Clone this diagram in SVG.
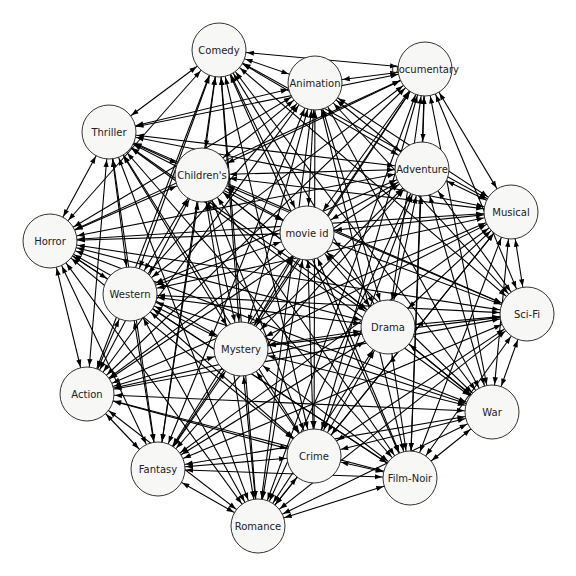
<svg xmlns="http://www.w3.org/2000/svg" width="576" height="576" viewBox="0 0 576 576">
<style>
.edges line{stroke:#000;stroke-width:1.1;fill:none;marker-start:url(#ah);marker-end:url(#ah)}
.node circle{fill:#f7f7f5;stroke:#333;stroke-width:1}
.node text{font-family:"DejaVu Sans",sans-serif;font-size:10px;fill:#222;text-anchor:middle;dominant-baseline:central}
</style>
<defs>
<marker id="ah" markerUnits="userSpaceOnUse" refX="28" refY="0" orient="auto-start-reverse" overflow="visible" markerWidth="10" markerHeight="10">
<path d="M-7,-2.6 L0,0 L-7,2.6 Z" fill="#000"/>
</marker>
</defs>
<rect width="576" height="576" fill="#fff"/>
<g id="connectors" class="edges">
<line x1="219" y1="50" x2="315" y2="83"/>
<line x1="219" y1="50" x2="425" y2="69"/>
<line x1="219" y1="50" x2="109" y2="132"/>
<line x1="219" y1="50" x2="202" y2="175"/>
<line x1="219" y1="50" x2="422" y2="169"/>
<line x1="219" y1="50" x2="511" y2="212"/>
<line x1="219" y1="50" x2="307" y2="233"/>
<line x1="219" y1="50" x2="50" y2="241"/>
<line x1="219" y1="50" x2="130" y2="294"/>
<line x1="219" y1="50" x2="527" y2="314"/>
<line x1="219" y1="50" x2="388" y2="327"/>
<line x1="219" y1="50" x2="241" y2="349"/>
<line x1="219" y1="50" x2="87" y2="394"/>
<line x1="219" y1="50" x2="492" y2="412"/>
<line x1="219" y1="50" x2="314" y2="456"/>
<line x1="219" y1="50" x2="158" y2="469"/>
<line x1="219" y1="50" x2="410" y2="478"/>
<line x1="219" y1="50" x2="258" y2="526"/>
<line x1="315" y1="83" x2="425" y2="69"/>
<line x1="315" y1="83" x2="109" y2="132"/>
<line x1="315" y1="83" x2="202" y2="175"/>
<line x1="315" y1="83" x2="422" y2="169"/>
<line x1="315" y1="83" x2="511" y2="212"/>
<line x1="315" y1="83" x2="307" y2="233"/>
<line x1="315" y1="83" x2="50" y2="241"/>
<line x1="315" y1="83" x2="130" y2="294"/>
<line x1="315" y1="83" x2="527" y2="314"/>
<line x1="315" y1="83" x2="388" y2="327"/>
<line x1="315" y1="83" x2="241" y2="349"/>
<line x1="315" y1="83" x2="87" y2="394"/>
<line x1="315" y1="83" x2="492" y2="412"/>
<line x1="315" y1="83" x2="314" y2="456"/>
<line x1="315" y1="83" x2="158" y2="469"/>
<line x1="315" y1="83" x2="410" y2="478"/>
<line x1="315" y1="83" x2="258" y2="526"/>
<line x1="425" y1="69" x2="109" y2="132"/>
<line x1="425" y1="69" x2="202" y2="175"/>
<line x1="425" y1="69" x2="422" y2="169"/>
<line x1="425" y1="69" x2="511" y2="212"/>
<line x1="425" y1="69" x2="307" y2="233"/>
<line x1="425" y1="69" x2="50" y2="241"/>
<line x1="425" y1="69" x2="130" y2="294"/>
<line x1="425" y1="69" x2="527" y2="314"/>
<line x1="425" y1="69" x2="388" y2="327"/>
<line x1="425" y1="69" x2="241" y2="349"/>
<line x1="425" y1="69" x2="87" y2="394"/>
<line x1="425" y1="69" x2="492" y2="412"/>
<line x1="425" y1="69" x2="314" y2="456"/>
<line x1="425" y1="69" x2="158" y2="469"/>
<line x1="425" y1="69" x2="410" y2="478"/>
<line x1="425" y1="69" x2="258" y2="526"/>
<line x1="109" y1="132" x2="202" y2="175"/>
<line x1="109" y1="132" x2="422" y2="169"/>
<line x1="109" y1="132" x2="511" y2="212"/>
<line x1="109" y1="132" x2="307" y2="233"/>
<line x1="109" y1="132" x2="50" y2="241"/>
<line x1="109" y1="132" x2="130" y2="294"/>
<line x1="109" y1="132" x2="527" y2="314"/>
<line x1="109" y1="132" x2="388" y2="327"/>
<line x1="109" y1="132" x2="241" y2="349"/>
<line x1="109" y1="132" x2="87" y2="394"/>
<line x1="109" y1="132" x2="492" y2="412"/>
<line x1="109" y1="132" x2="314" y2="456"/>
<line x1="109" y1="132" x2="158" y2="469"/>
<line x1="109" y1="132" x2="410" y2="478"/>
<line x1="109" y1="132" x2="258" y2="526"/>
<line x1="202" y1="175" x2="422" y2="169"/>
<line x1="202" y1="175" x2="511" y2="212"/>
<line x1="202" y1="175" x2="307" y2="233"/>
<line x1="202" y1="175" x2="50" y2="241"/>
<line x1="202" y1="175" x2="130" y2="294"/>
<line x1="202" y1="175" x2="527" y2="314"/>
<line x1="202" y1="175" x2="388" y2="327"/>
<line x1="202" y1="175" x2="241" y2="349"/>
<line x1="202" y1="175" x2="87" y2="394"/>
<line x1="202" y1="175" x2="492" y2="412"/>
<line x1="202" y1="175" x2="314" y2="456"/>
<line x1="202" y1="175" x2="158" y2="469"/>
<line x1="202" y1="175" x2="410" y2="478"/>
<line x1="202" y1="175" x2="258" y2="526"/>
<line x1="422" y1="169" x2="511" y2="212"/>
<line x1="422" y1="169" x2="307" y2="233"/>
<line x1="422" y1="169" x2="50" y2="241"/>
<line x1="422" y1="169" x2="130" y2="294"/>
<line x1="422" y1="169" x2="527" y2="314"/>
<line x1="422" y1="169" x2="388" y2="327"/>
<line x1="422" y1="169" x2="241" y2="349"/>
<line x1="422" y1="169" x2="87" y2="394"/>
<line x1="422" y1="169" x2="492" y2="412"/>
<line x1="422" y1="169" x2="314" y2="456"/>
<line x1="422" y1="169" x2="158" y2="469"/>
<line x1="422" y1="169" x2="410" y2="478"/>
<line x1="422" y1="169" x2="258" y2="526"/>
<line x1="511" y1="212" x2="307" y2="233"/>
<line x1="511" y1="212" x2="50" y2="241"/>
<line x1="511" y1="212" x2="130" y2="294"/>
<line x1="511" y1="212" x2="527" y2="314"/>
<line x1="511" y1="212" x2="388" y2="327"/>
<line x1="511" y1="212" x2="241" y2="349"/>
<line x1="511" y1="212" x2="87" y2="394"/>
<line x1="511" y1="212" x2="492" y2="412"/>
<line x1="511" y1="212" x2="314" y2="456"/>
<line x1="511" y1="212" x2="158" y2="469"/>
<line x1="511" y1="212" x2="410" y2="478"/>
<line x1="511" y1="212" x2="258" y2="526"/>
<line x1="307" y1="233" x2="50" y2="241"/>
<line x1="307" y1="233" x2="130" y2="294"/>
<line x1="307" y1="233" x2="527" y2="314"/>
<line x1="307" y1="233" x2="388" y2="327"/>
<line x1="307" y1="233" x2="241" y2="349"/>
<line x1="307" y1="233" x2="87" y2="394"/>
<line x1="307" y1="233" x2="492" y2="412"/>
<line x1="307" y1="233" x2="314" y2="456"/>
<line x1="307" y1="233" x2="158" y2="469"/>
<line x1="307" y1="233" x2="410" y2="478"/>
<line x1="307" y1="233" x2="258" y2="526"/>
<line x1="50" y1="241" x2="130" y2="294"/>
<line x1="50" y1="241" x2="527" y2="314"/>
<line x1="50" y1="241" x2="388" y2="327"/>
<line x1="50" y1="241" x2="241" y2="349"/>
<line x1="50" y1="241" x2="87" y2="394"/>
<line x1="50" y1="241" x2="492" y2="412"/>
<line x1="50" y1="241" x2="314" y2="456"/>
<line x1="50" y1="241" x2="158" y2="469"/>
<line x1="50" y1="241" x2="410" y2="478"/>
<line x1="50" y1="241" x2="258" y2="526"/>
<line x1="130" y1="294" x2="527" y2="314"/>
<line x1="130" y1="294" x2="388" y2="327"/>
<line x1="130" y1="294" x2="241" y2="349"/>
<line x1="130" y1="294" x2="87" y2="394"/>
<line x1="130" y1="294" x2="492" y2="412"/>
<line x1="130" y1="294" x2="314" y2="456"/>
<line x1="130" y1="294" x2="158" y2="469"/>
<line x1="130" y1="294" x2="410" y2="478"/>
<line x1="130" y1="294" x2="258" y2="526"/>
<line x1="527" y1="314" x2="388" y2="327"/>
<line x1="527" y1="314" x2="241" y2="349"/>
<line x1="527" y1="314" x2="87" y2="394"/>
<line x1="527" y1="314" x2="492" y2="412"/>
<line x1="527" y1="314" x2="314" y2="456"/>
<line x1="527" y1="314" x2="158" y2="469"/>
<line x1="527" y1="314" x2="410" y2="478"/>
<line x1="527" y1="314" x2="258" y2="526"/>
<line x1="388" y1="327" x2="241" y2="349"/>
<line x1="388" y1="327" x2="87" y2="394"/>
<line x1="388" y1="327" x2="492" y2="412"/>
<line x1="388" y1="327" x2="314" y2="456"/>
<line x1="388" y1="327" x2="158" y2="469"/>
<line x1="388" y1="327" x2="410" y2="478"/>
<line x1="388" y1="327" x2="258" y2="526"/>
<line x1="241" y1="349" x2="87" y2="394"/>
<line x1="241" y1="349" x2="492" y2="412"/>
<line x1="241" y1="349" x2="314" y2="456"/>
<line x1="241" y1="349" x2="158" y2="469"/>
<line x1="241" y1="349" x2="410" y2="478"/>
<line x1="241" y1="349" x2="258" y2="526"/>
<line x1="87" y1="394" x2="492" y2="412"/>
<line x1="87" y1="394" x2="314" y2="456"/>
<line x1="87" y1="394" x2="158" y2="469"/>
<line x1="87" y1="394" x2="410" y2="478"/>
<line x1="87" y1="394" x2="258" y2="526"/>
<line x1="492" y1="412" x2="314" y2="456"/>
<line x1="492" y1="412" x2="158" y2="469"/>
<line x1="492" y1="412" x2="410" y2="478"/>
<line x1="492" y1="412" x2="258" y2="526"/>
<line x1="314" y1="456" x2="158" y2="469"/>
<line x1="314" y1="456" x2="410" y2="478"/>
<line x1="314" y1="456" x2="258" y2="526"/>
<line x1="158" y1="469" x2="410" y2="478"/>
<line x1="158" y1="469" x2="258" y2="526"/>
<line x1="410" y1="478" x2="258" y2="526"/>
</g>
<g id="node-comedy" class="node"><circle cx="219" cy="50" r="27"/><text x="219" y="50">Comedy</text></g>
<g id="node-animation" class="node"><circle cx="315" cy="83" r="27"/><text x="315" y="83">Animation</text></g>
<g id="node-documentary" class="node"><circle cx="425" cy="69" r="27"/><text x="425" y="69">Documentary</text></g>
<g id="node-thriller" class="node"><circle cx="109" cy="132" r="27"/><text x="109" y="132">Thriller</text></g>
<g id="node-childrens" class="node"><circle cx="202" cy="175" r="27"/><text x="202" y="175">Children's</text></g>
<g id="node-adventure" class="node"><circle cx="422" cy="169" r="27"/><text x="422" y="169">Adventure</text></g>
<g id="node-musical" class="node"><circle cx="511" cy="212" r="27"/><text x="511" y="212">Musical</text></g>
<g id="node-movieid" class="node"><circle cx="307" cy="233" r="27"/><text x="307" y="233">movie id</text></g>
<g id="node-horror" class="node"><circle cx="50" cy="241" r="27"/><text x="50" y="241">Horror</text></g>
<g id="node-western" class="node"><circle cx="130" cy="294" r="27"/><text x="130" y="294">Western</text></g>
<g id="node-scifi" class="node"><circle cx="527" cy="314" r="27"/><text x="527" y="314">Sci-Fi</text></g>
<g id="node-drama" class="node"><circle cx="388" cy="327" r="27"/><text x="388" y="327">Drama</text></g>
<g id="node-mystery" class="node"><circle cx="241" cy="349" r="27"/><text x="241" y="349">Mystery</text></g>
<g id="node-action" class="node"><circle cx="87" cy="394" r="27"/><text x="87" y="394">Action</text></g>
<g id="node-war" class="node"><circle cx="492" cy="412" r="27"/><text x="492" y="412">War</text></g>
<g id="node-crime" class="node"><circle cx="314" cy="456" r="27"/><text x="314" y="456">Crime</text></g>
<g id="node-fantasy" class="node"><circle cx="158" cy="469" r="27"/><text x="158" y="469">Fantasy</text></g>
<g id="node-filmnoir" class="node"><circle cx="410" cy="478" r="27"/><text x="410" y="478">Film-Noir</text></g>
<g id="node-romance" class="node"><circle cx="258" cy="526" r="27"/><text x="258" y="526">Romance</text></g>
</svg>
